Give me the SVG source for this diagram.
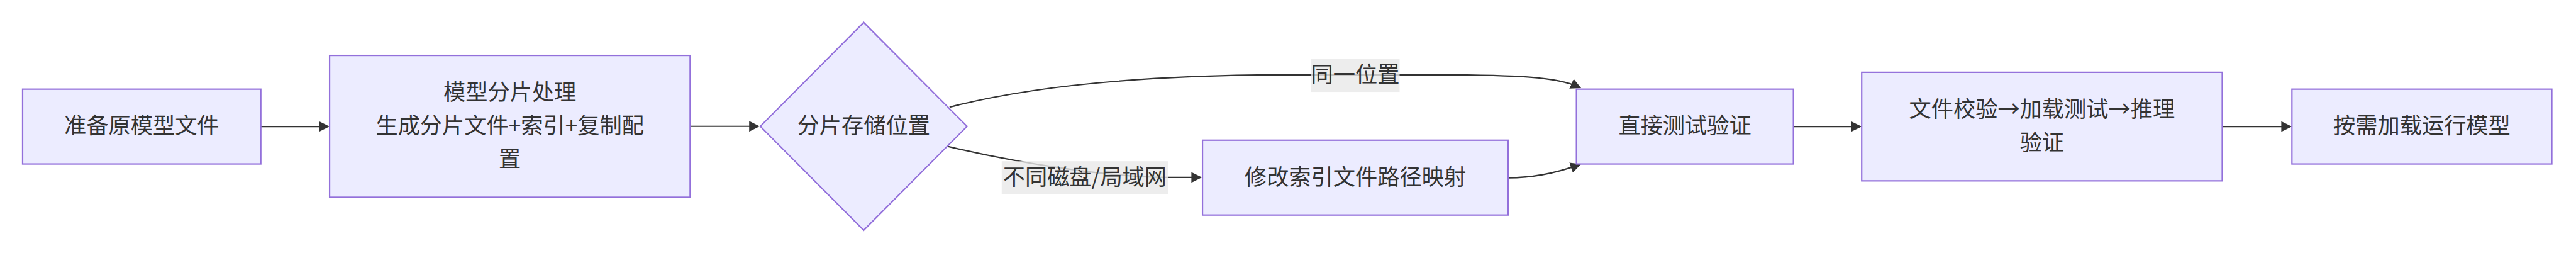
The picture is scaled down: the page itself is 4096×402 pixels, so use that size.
<svg xmlns="http://www.w3.org/2000/svg" width="4096" height="402" viewBox="0 0 4096 402">
  <style>
    .node rect, .node polygon { fill: #ECECFF; stroke: #9370DB; stroke-width: 3; }
    .t { font-family: "Noto Sans CJK SC", "Noto Sans", sans-serif; font-size: 48px; fill: #333333; text-anchor: middle; }
    .edge { fill: none; stroke: #333333; stroke-width: 3; }
    .lbl { fill: rgba(232,232,232,0.8); }
  </style>
  <defs>
    <marker id="arrow" viewBox="0 0 10 10" refX="7" refY="5" markerWidth="23" markerHeight="23" markerUnits="userSpaceOnUse" orient="auto">
      <path d="M0,0 L10,5 L0,10 z" fill="#333333"/>
    </marker>
  </defs>
  <rect x="0" y="0" width="4096" height="402" fill="#ffffff"/>
  <g transform="scale(0.734)">
    <g id="edges">
      <path class="edge" marker-end="url(#arrow)" d="M 565 274 L 707 274"/>
      <path class="edge" marker-end="url(#arrow)" d="M 1495 273.5 L 1639 273.5"/>
      <path class="edge" marker-end="url(#arrow)" d="M 2057 232 C 2250 182, 2500 162, 2800 162 L 3100 162 C 3300 162, 3375 168, 3419 188"/>
      <path class="edge" marker-end="url(#arrow)" d="M 2053 317 C 2200 352, 2400 384, 2530 384 L 2597 384"/>
      <path class="edge" marker-end="url(#arrow)" d="M 3267 385 C 3330 385, 3378 372, 3418.5 357.5"/>
      <path class="edge" marker-end="url(#arrow)" d="M 3885 274 L 4026 274"/>
      <path class="edge" marker-end="url(#arrow)" d="M 4814 274 L 4958 274"/>
    </g>
    <g id="edge-labels">
      <g id="label-same">
        <rect class="lbl" x="2840" y="127" width="192" height="72"/>
        <text class="t" x="2936" y="179">同一位置</text>
      </g>
      <g id="label-diff">
        <rect class="lbl" x="2170" y="349" width="360" height="72"/>
        <text class="t" x="2350" y="401">不同磁盘/局域网</text>
      </g>
    </g>
    <g id="node-prepare" class="node">
      <rect x="49" y="193" width="516" height="162"/>
      <text class="t" x="307" y="289">准备原模型文件</text>
    </g>
    <g id="node-shard" class="node">
      <rect x="714" y="120" width="781" height="307"/>
      <text class="t" x="1104.5" y="216.5">模型分片处理</text>
      <text class="t" x="1104.5" y="288.5">生成分片文件+索引+复制配</text>
      <text class="t" x="1104.5" y="360.5">置</text>
    </g>
    <g id="node-location" class="node">
      <polygon points="1871,48.5 2095,273.5 1871,498.5 1647,273.5"/>
      <text class="t" x="1871" y="289">分片存储位置</text>
    </g>
    <g id="node-modify" class="node">
      <rect x="2605" y="303.5" width="662" height="162"/>
      <text class="t" x="2936" y="400">修改索引文件路径映射</text>
    </g>
    <g id="node-direct" class="node">
      <rect x="3415" y="193" width="470" height="162"/>
      <text class="t" x="3650" y="289">直接测试验证</text>
    </g>
    <g id="node-verify" class="node">
      <rect x="4033" y="156.5" width="781" height="235"/>
      <text class="t" x="4423.5" y="253">文件校验→加载测试→推理</text>
      <text class="t" x="4423.5" y="325">验证</text>
    </g>
    <g id="node-run" class="node">
      <rect x="4965" y="193" width="563" height="162"/>
      <text class="t" x="5246.5" y="289">按需加载运行模型</text>
    </g>
  </g>
</svg>
